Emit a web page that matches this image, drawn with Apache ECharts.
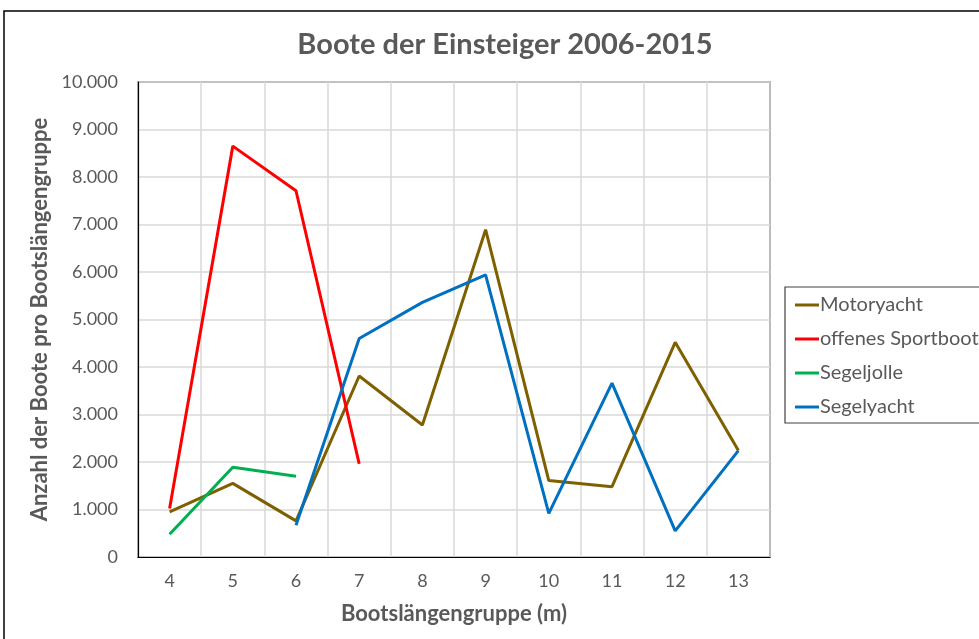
<!DOCTYPE html>
<html>
<head>
<meta charset="utf-8">
<script src="https://cdn.jsdelivr.net/npm/echarts@6/dist/echarts.min.js"></script>
<style>
  html, body { margin: 0; padding: 0; background: #fff; }
  #chart { width: 979px; height: 639px; }
</style>
</head>
<body>
<div id="chart"></div>
<script>
// Bootslängen-Kategorien (m)
var categories = ['4', '5', '6', '7', '8', '9', '10', '11', '12', '13'];

// Werte
var motoryacht = [950, 1550, 760, 3810, 2780, 6890, 1610, 1480, 4520, 2240];
var sportboot = [1020, 8650, 7710, 1960, null, null, null, null, null, null];
var segeljolle = [480, 1890, 1700, null, null, null, null, null, null, null];
var segelyacht = [null, null, 670, 4600, 5360, 5940, 920, 3660, 550, 2240];

var chart = echarts.init(document.getElementById('chart'));

var grey = '#595959';
var font = 'Lato, "Open Sans", sans-serif';

function line(name, data, color) {
  return {
    name: name,
    type: 'line',
    data: data,
    symbol: 'none',
    connectNulls: false,
    lineStyle: { color: color, width: 3 },
    itemStyle: { color: color }
  };
}

var option = {
  backgroundColor: '#FFFFFF',
  animation: false,
  textStyle: { fontFamily: font },
  title: {
    text: 'Boote der Einsteiger 2006-2015',
    left: 500,
    top: 25,
    textAlign: 'center',
    textStyle: { fontFamily: font, fontSize: 29, fontWeight: 'bold', color: grey }
  },
  legend: {
    orient: 'vertical',
    left: 790,
    top: 290,
    itemWidth: 24,
    itemHeight: 3,
    itemGap: 14,
    icon: 'rect',
    textStyle: { fontFamily: font, fontSize: 20, color: grey, padding: [0, 0, 0, -4] },
    data: ['Motoryacht', 'offenes Sportboot', 'Segeljolle', 'Segelyacht']
  },
  graphic: [
    {
      type: 'rect',
      shape: { x: 4, y: 11, width: 1000, height: 700 },
      style: { fill: 'none', stroke: '#000', lineWidth: 1.5 },
      silent: true
    },
    {
      type: 'rect',
      shape: { x: 785, y: 287, width: 300, height: 136 },
      style: { fill: 'none', stroke: '#404040', lineWidth: 1.2 },
      silent: true
    }
  ],
  grid: {
    left: 138,
    right: 209,
    top: 82,
    bottom: 82,
    show: true,
    borderColor: '#000',
    borderWidth: 1.2
  },
  xAxis: {
    type: 'category',
    data: categories,
    boundaryGap: true,
    name: 'Bootslängengruppe (m)',
    nameLocation: 'middle',
    nameGap: 46,
    nameTextStyle: { fontFamily: font, fontSize: 22, fontWeight: 'bold', color: grey },
    axisLine: { show: true, lineStyle: { color: '#000', width: 1.2 } },
    axisTick: { show: false },
    axisLabel: { fontFamily: font, fontSize: 18, color: grey, margin: 15 },
    splitLine: { show: true, lineStyle: { color: '#d9d9d9', width: 1.5 } }
  },
  yAxis: {
    type: 'value',
    min: 0,
    max: 10000,
    interval: 1000,
    name: 'Anzahl der Boote pro Bootslängengruppe',
    nameLocation: 'middle',
    nameGap: 86,
    nameTextStyle: { fontFamily: font, fontSize: 22, fontWeight: 'bold', color: grey },
    axisLine: { show: true, lineStyle: { color: '#000', width: 1.2 } },
    axisTick: { show: false },
    axisLabel: {
      fontFamily: font,
      fontSize: 18,
      color: grey,
      margin: 20,
      formatter: function (v) {
        return v.toString().replace(/\B(?=(\d{3})+(?!\d))/g, '.');
      }
    },
    splitLine: { show: true, lineStyle: { color: '#d9d9d9', width: 1.5 } }
  },
  series: [
    line('Motoryacht', motoryacht, '#7f6000'),
    line('offenes Sportboot', sportboot, '#ff0000'),
    line('Segeljolle', segeljolle, '#00b050'),
    line('Segelyacht', segelyacht, '#0070c0')
  ]
};

chart.setOption(option);
</script>
</body>
</html>
